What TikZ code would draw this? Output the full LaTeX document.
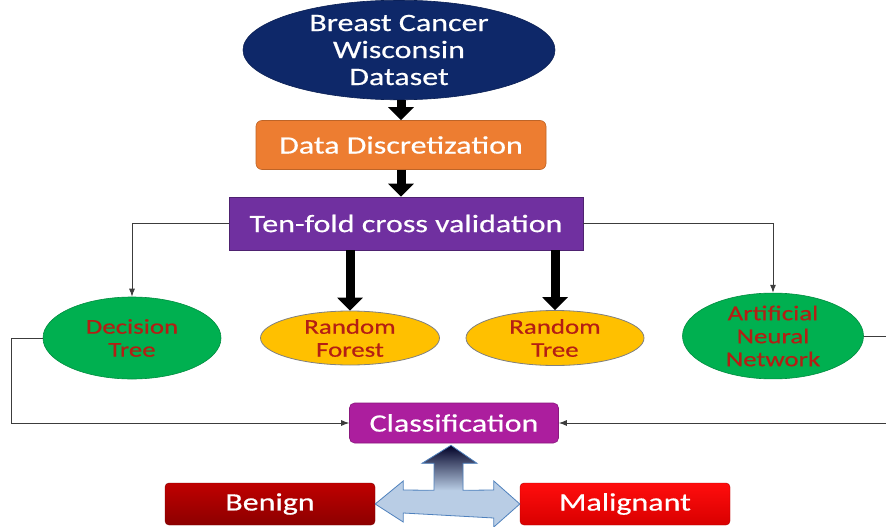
\documentclass[tikz,border=0pt]{standalone}
\usepackage{fontspec}
\setmainfont{Carlito}[FakeStretch=1.28,FakeBold=0.5]
\usetikzlibrary{shapes.geometric,arrows.meta,calc}
\definecolor{navy}{RGB}{14,40,105}
\definecolor{orng}{RGB}{237,125,49}
\definecolor{purp}{RGB}{112,48,160}
\definecolor{grn}{RGB}{0,176,80}
\definecolor{yel}{RGB}{255,192,0}
\definecolor{dred}{RGB}{180,30,20}
\definecolor{magn}{RGB}{172,30,158}
\definecolor{lblue}{RGB}{185,205,229}
\definecolor{bblue}{RGB}{79,129,189}
\definecolor{linec}{RGB}{60,60,60}
\tikzset{
  x=1pt,y=-1pt,
  every node/.style={inner sep=0pt,align=center},
  ell/.style={ellipse,draw=#1!80!black,line width=0.6pt,fill=#1},
  boxw/.style={font=\fontsize{25}{27}\selectfont,text=white},
  smalltxt/.style={font=\fontsize{21}{23}\selectfont,text=dred},
  conn/.style={draw=linec,line width=0.9pt,-{Latex[length=8pt,width=6pt]}},
  fat/.style={draw=black,line width=9pt,-{Triangle[length=13pt,width=25pt]}},
  redbox/.style={rounded corners=4pt,minimum width=210pt,minimum height=42pt,font=\fontsize{25}{27}\selectfont,text=white}
}
\begin{document}
\begin{tikzpicture}
\useasboundingbox[fill=white] (0,0) rectangle (886,527);
% nodes
\node[ell=navy,minimum width=312pt,minimum height=92pt,boxw,font=\fontsize{25}{27}\selectfont] (bcw) at (399,50) {Breast Cancer\\Wisconsin\\Dataset};
\node[fill=orng,draw=orng!80!black,line width=0.6pt,rounded corners=6pt,minimum width=290pt,minimum height=49pt,boxw] (dd) at (401,145) {Data Discretization};
\node[fill=purp,draw=purp!70!black,line width=0.6pt,minimum width=354pt,minimum height=53pt,boxw] (ten) at (406,223.5) {Ten-fold cross validation};
\node[ell=grn,minimum width=178pt,minimum height=82pt,smalltxt] (dt) at (132,338) {Decision\\Tree};
\node[ellipse,fill=yel,draw=gray,line width=0.8pt,minimum width=179pt,minimum height=54pt,smalltxt] (rf) at (350,338) {Random\\Forest};
\node[ellipse,fill=yel,draw=gray,line width=0.8pt,minimum width=178pt,minimum height=55pt,smalltxt] (rt) at (555,338) {Random\\Tree};
\node[ell=grn,minimum width=181pt,minimum height=77pt,smalltxt] (ann) at (773,336) {Artificial\\Neural\\Network};
\node[fill=magn,draw=magn!80!black,line width=0.6pt,rounded corners=5pt,minimum width=209pt,minimum height=40pt,boxw] (cls) at (454,423) {Classification};
\node[redbox,top color=red!75!black,bottom color=red!55!black,draw=red!50!black] (ben) at (270,504) {Benign};
\node[redbox,top color=red!95!white,bottom color=red!85!black,draw=red!70!black] (mal) at (625,504) {Malignant};
% thick arrows
\draw[fat] (dd.north |- bcw.south) -- (dd.north);
\draw[fat] (dd.south) -- (dd.south |- ten.north);
\draw[fat] (rf.north |- ten.south) -- (rf.north);
\draw[fat] (rt.north |- ten.south) -- (rt.north);
% thin connectors
\draw[conn] (ten.west) -| (dt.north);
\draw[conn] (ten.east) -| (ann.north);
\draw[conn] (dt.west) -- ++(-31,0) |- (cls.west);
\draw[conn] (ann.east) -- ++(30,0) |- (cls.east);
% double arrow with up arrow to classification
\coordinate (tip) at ($(cls.south)+(-3,2)$);
\path[fill=lblue] (tip) -- ++(26,18) -- ++(-14,0) -- ++(0,27) -- ($(mal.west)+(-26,-14)$) -- ++(0,-9) -- (mal.west) -- ++(-26,23) -- ++(0,-9) -- ($(ben.east)+(28,9)$) -- ++(0,9) -- (ben.east) -- ++(28,-23) -- ++(0,9) -- ($(tip)+(-17,45)$) -- ++(0,-27) -- ++(-12,0) -- cycle;
\path[top color=black!85!blue,bottom color=lblue] (tip) -- ++(26,18) -- ++(-14,0) -- ++(0,27) -- ++(-29,0) -- ++(0,-27) -- ++(-12,0) -- cycle;
\draw[bblue,line width=0.8pt,line join=miter] (tip) -- ++(26,18) -- ++(-14,0) -- ++(0,27) -- ($(mal.west)+(-26,-14)$) -- ++(0,-9) -- (mal.west) -- ++(-26,23) -- ++(0,-9) -- ($(ben.east)+(28,9)$) -- ++(0,9) -- (ben.east) -- ++(28,-23) -- ++(0,9) -- ($(tip)+(-17,45)$) -- ++(0,-27) -- ++(-12,0) -- cycle;
\end{tikzpicture}
\end{document}
